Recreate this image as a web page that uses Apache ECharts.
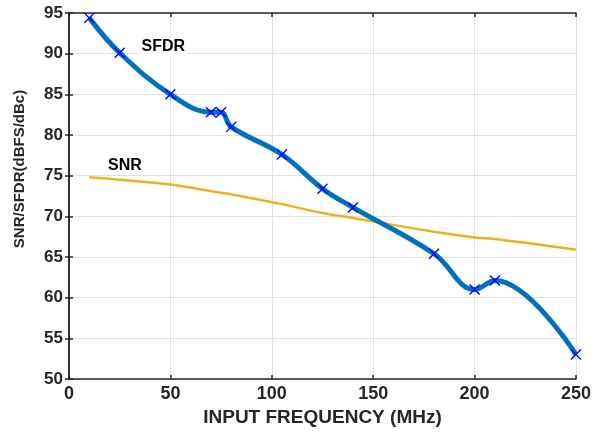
<!DOCTYPE html>
<html>
<head>
<meta charset="utf-8">
<script src="https://cdn.jsdelivr.net/npm/echarts@6/dist/echarts.min.js"></script>
<style>
  html, body { margin: 0; padding: 0; background: #fff; }
  #chart { width: 604px; height: 432px; }
</style>
</head>
<body>
<div id="chart"></div>
<script>
// input frequency (MHz) for both measurements
const freq = [10, 25, 50, 70, 75, 80, 105, 125, 140, 180, 200, 210, 250]
const sfdr = [94.4, 90.1, 85.0, 82.8, 82.8, 81.0, 77.6, 73.4, 71.1, 65.4, 61.0, 62.1, 53.0]
const snr = [74.8, 74.5, 73.9, 73.1, 72.9, 72.7, 71.5, 70.4, 69.8, 68.1, 67.4, 67.2, 65.9]
const xTicks = [0, 50, 100, 150, 200, 250]
const yTicks = [50, 55, 60, 65, 70, 75, 80, 85, 90, 95]

const font = 'Liberation Sans, Arial, sans-serif'
const dark = '#262626'
const crossSymbol = 'path://M0,0.9L0.9,0L5,4.1L9.1,0L10,0.9L5.9,5L10,9.1L9.1,10L5,5.9L0.9,10L0,9.1L4.1,5Z'

const chart = echarts.init(document.getElementById('chart'))

const baseX = {
  type: 'value',
  min: xTicks[0],
  max: xTicks[xTicks.length - 1],
  interval: 50,
  axisLine: { lineStyle: { color: dark, width: 1.5 } },
  axisTick: { inside: true, length: 4, lineStyle: { color: dark, width: 1.5 } }
}
const baseY = {
  type: 'value',
  min: yTicks[0],
  max: yTicks[yTicks.length - 1],
  interval: 5,
  axisLine: { lineStyle: { color: dark, width: 1.5 } },
  axisTick: { inside: true, length: 4, lineStyle: { color: dark, width: 1.5 } }
}

const option = {
  animation: false,
  grid: { left: 69, right: 28, top: 13, bottom: 51 },
  xAxis: [
    Object.assign({}, baseX, {
      position: 'bottom',
      name: 'INPUT FREQUENCY (MHz)',
      nameLocation: 'middle',
      nameGap: 29,
      nameTextStyle: { fontFamily: font, fontSize: 19, fontWeight: 'bold', color: dark },
      axisLabel: { fontFamily: font, fontSize: 18, fontWeight: 'bold', color: dark, margin: 6 },
      splitLine: { show: true, lineStyle: { color: '#e0e0e0', width: 1 } }
    }),
    Object.assign({}, baseX, {
      position: 'top',
      axisLabel: { show: false },
      splitLine: { show: false }
    })
  ],
  yAxis: [
    Object.assign({}, baseY, {
      position: 'left',
      axisLabel: { fontFamily: font, fontSize: 17, fontWeight: 'bold', color: dark, margin: 6 },
      splitLine: { show: true, lineStyle: { color: '#e0e0e0', width: 1 } }
    }),
    Object.assign({}, baseY, {
      position: 'right',
      axisLabel: { show: false },
      splitLine: { show: false }
    })
  ],
  series: [
    {
      name: 'SNR',
      type: 'line',
      data: freq.map((f, i) => [f, snr[i]]),
      smooth: 0.4,
      showSymbol: false,
      lineStyle: { color: '#EDB120', width: 2.5 },
      z: 2
    },
    {
      name: 'SFDR',
      type: 'line',
      data: freq.map((f, i) => [f, sfdr[i]]),
      smooth: 0.4,
      symbol: crossSymbol,
      symbolSize: 11,
      itemStyle: { color: '#0000ff' },
      lineStyle: { color: '#0072BD', width: 5 },
      z: 3
    }
  ],
  graphic: {
    elements: [
      {
        type: 'text', x: 19.5, y: 169, rotation: Math.PI / 2, z: 100,
        style: {
          text: 'SNR/SFDR(dBFS/dBc)', fontFamily: font, fontSize: 15, fontWeight: 'bold',
          fill: dark, textAlign: 'center', textVerticalAlign: 'middle'
        }
      },
      {
        type: 'rect', z: 99,
        shape: { x: 140, y: 38, width: 48, height: 18 },
        style: { fill: '#fff' }
      },
      {
        type: 'text', x: 141.5, y: 46.5, z: 100,
        style: {
          text: 'SFDR', fontFamily: font, fontSize: 16, fontWeight: 'bold', fill: '#000',
          textAlign: 'left', textVerticalAlign: 'middle'
        }
      },
      {
        type: 'text', x: 108, y: 166, z: 100,
        style: {
          text: 'SNR', fontFamily: font, fontSize: 16, fontWeight: 'bold', fill: '#000',
          textAlign: 'left', textVerticalAlign: 'middle'
        }
      }
    ]
  }
}

chart.setOption(option)
</script>
</body>
</html>
